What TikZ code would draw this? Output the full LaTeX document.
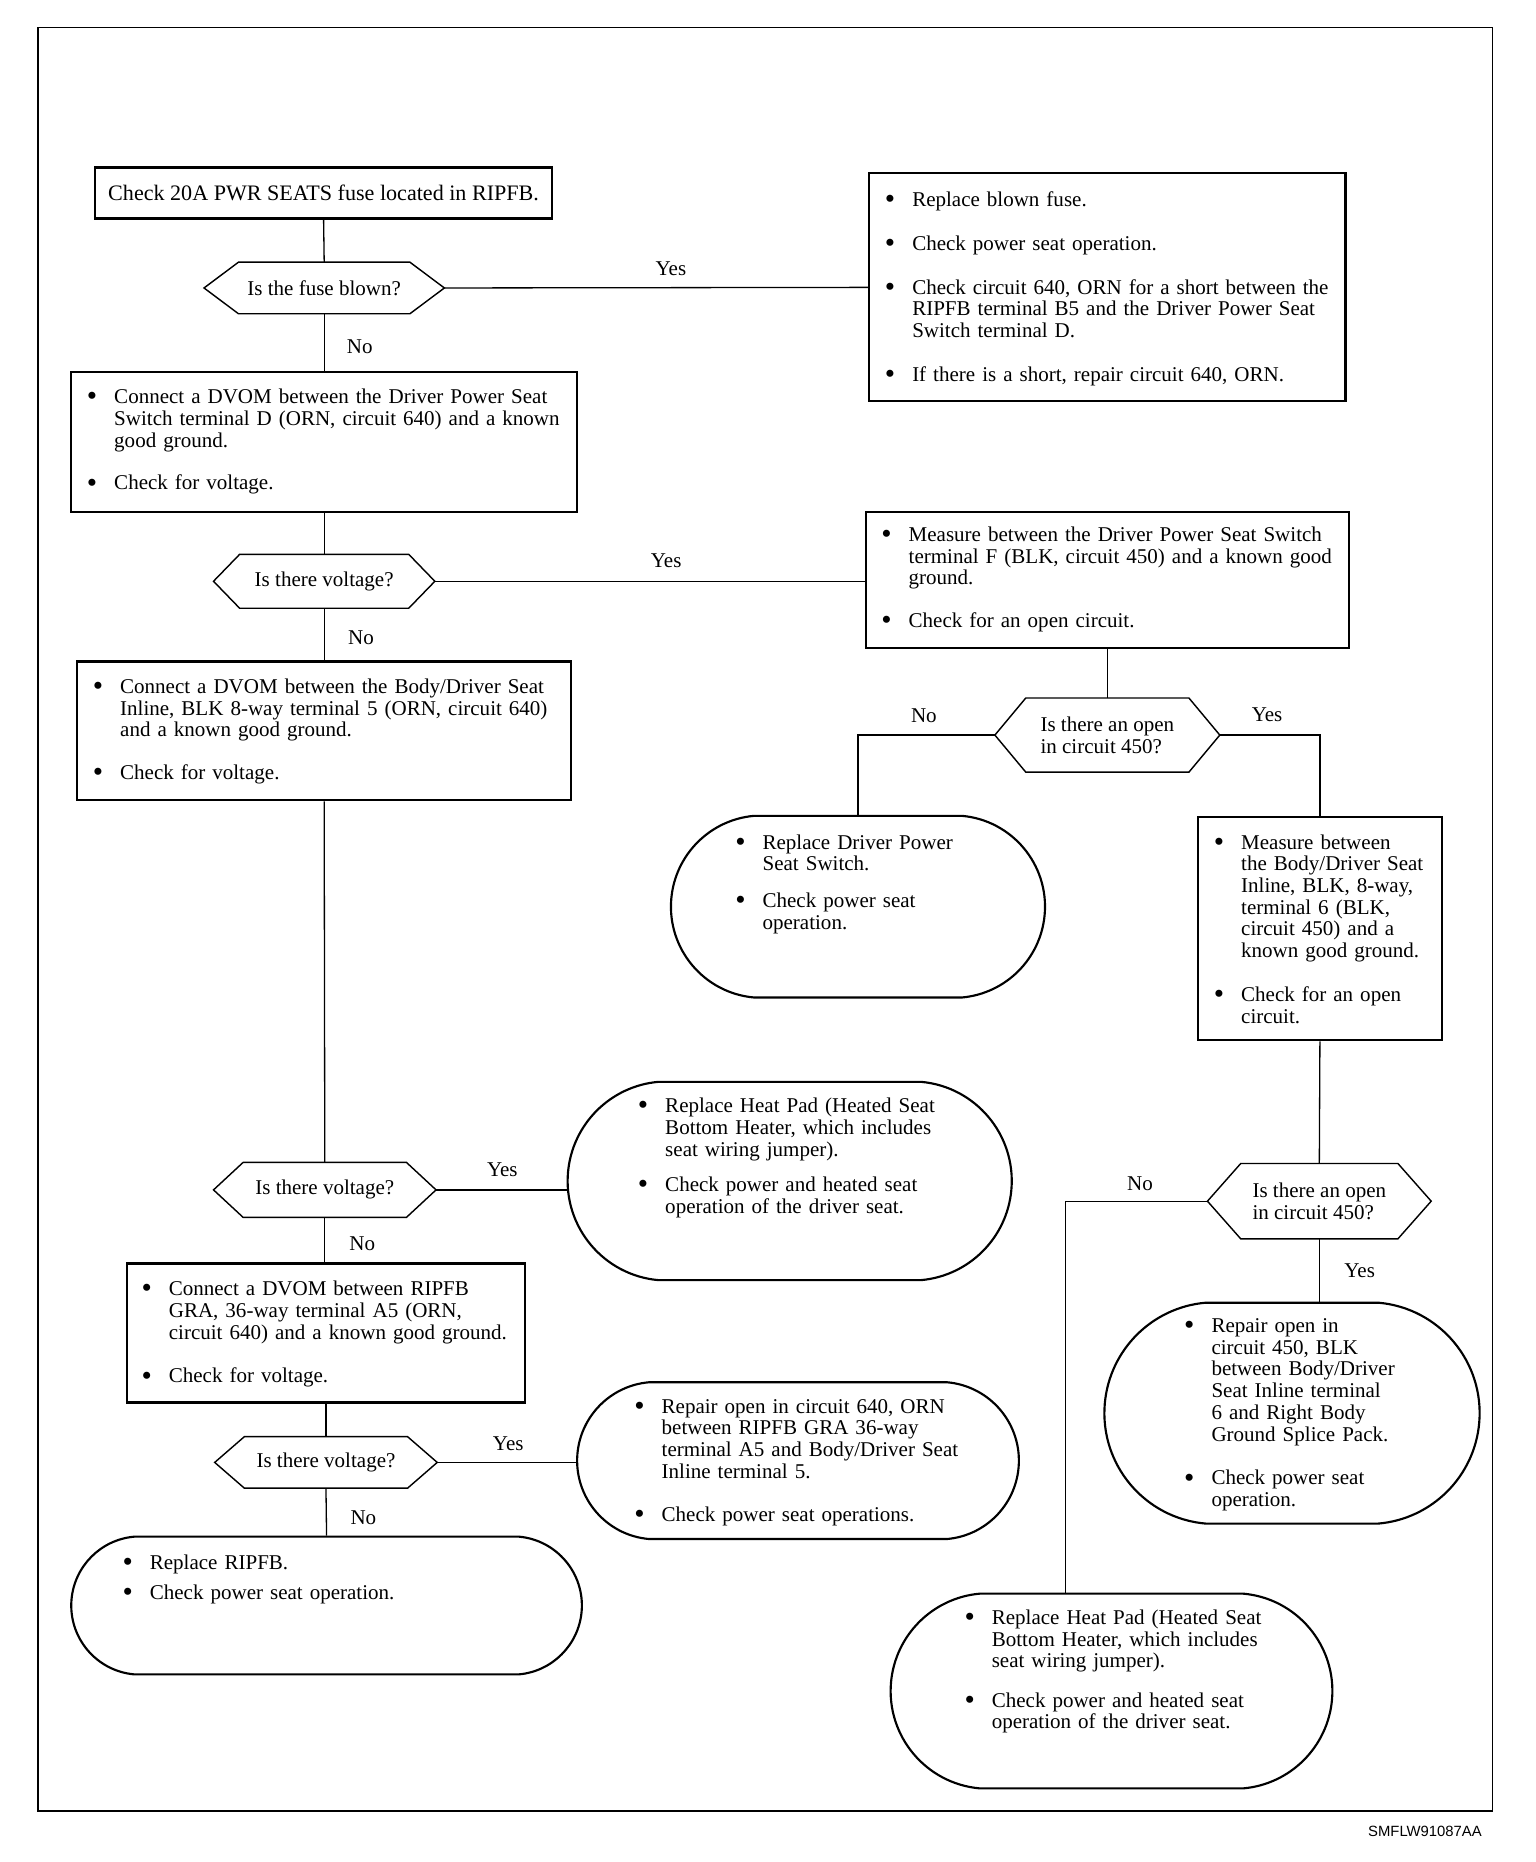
\documentclass[tikz,border=0pt]{standalone}
\usepackage{fontspec}
\usepackage{graphicx}
\setmainfont{Liberation Serif}
\newfontfamily\figfont{Liberation Sans}
\usetikzlibrary{shapes.misc}

% bullet item, optional extra space before it (none for the first item)
\newcommand\bul[1][]{\if\relax\detokenize{#1}\relax\else\par\vspace{#1}\fi
  \noindent\hangindent=23pt\hangafter=1\makebox[23pt][l]{\raisebox{-0.1em}{\scalebox{1.4}{\textbullet}}}\ignorespaces}

\begin{document}
\begin{tikzpicture}[x=1pt,y=-1pt,
	every node/.style={font=\fontsize{17.7}{18.3}\selectfont},
	box/.style={draw,line width=1.8pt,rectangle,inner sep=0pt},
	endbox/.style={draw,line width=1.8pt,rounded rectangle,rounded rectangle arc length=170,inner sep=0pt},
	decision/.style={rectangle,inner sep=0pt,align=left},
	bullets/.style={anchor=base west,inner sep=0pt,text width=420pt,align=left},
	answer/.style={inner sep=1pt},
	line/.style={line width=1.1pt}]
	\useasboundingbox (0,0) rectangle (1293.4,1568);
	\draw[line width=1.3pt] (32,23) rectangle (1257,1525);

	% boxes
	\node[box,minimum width=385,minimum height=43,font=\fontsize{18.6}{18.3}\selectfont] (fuse) at (272.5,162.5) {Check 20A PWR SEATS fuse located in RIPFB.};
	\node[box,minimum width=401,minimum height=192] (replacefuse) at (932.5,242) {};
	\node[box,minimum width=426,minimum height=118] (dvomswitch) at (273,372) {};
	\node[box,minimum width=407,minimum height=115] (measuref) at (932.5,488.5) {};
	\node[box,minimum width=416,minimum height=117] (dvominline) at (273,615.5) {};
	\node[endbox,minimum width=315,minimum height=153] (replaceswitch) at (722.5,763.5) {};
	\node[box,minimum width=205,minimum height=188] (measure6) at (1111.5,782) {};
	\node[endbox,minimum width=374,minimum height=167] (heatpad1) at (665,994.5) {};
	\node[box,minimum width=335,minimum height=117] (dvomgra) at (274.5,1122.5) {};
	\node[endbox,minimum width=372,minimum height=132] (repair640) at (672,1230) {};
	\node[endbox,minimum width=430,minimum height=116] (replaceripfb) at (275,1352) {};
	\node[endbox,minimum width=316,minimum height=186] (repair450) at (1088,1190) {};
	\node[endbox,minimum width=372,minimum height=164] (heatpad2) at (936,1424) {};

	% decisions
	\node[decision,minimum width=202,minimum height=43] (blown) at (273,242.5) {Is the fuse blown?};
	\node[decision,minimum width=186,minimum height=45] (volt1) at (273,489.5) {Is there voltage?};
	\node[decision,minimum width=189,minimum height=62] (open1) at (932.5,619) {Is there an open\\in circuit 450?};
	\node[decision,minimum width=187,minimum height=46] (volt2) at (273.5,1002) {Is there voltage?};
	\node[decision,minimum width=187,minimum height=43] (volt3) at (274.5,1231.5) {Is there voltage?};
	\node[decision,minimum width=188,minimum height=63] (open2) at (1111,1011.5) {Is there an open\\in circuit 450?};
	\foreach \d/\c in {blown/29,volt1/22,open1/26,volt2/25,volt3/25,open2/28}
		\draw[line width=1.2pt] (\d.west) -- ([xshift=\c]\d.north west) -- ([xshift=-\c]\d.north east)
			-- (\d.east) -- ([xshift=-\c]\d.south east) -- ([xshift=\c]\d.south west) -- cycle;

	% box texts
	\node[bullets] (replacefuse-t) at (745,174) {\bul Replace blown fuse.
		\bul[18.5pt] Check power seat operation.
		\bul[18.5pt] Check circuit 640, ORN for a short between the\newline RIPFB terminal B5 and the Driver Power Seat\newline Switch terminal D.
		\bul[18.5pt] If there is a short, repair circuit 640, ORN.\par};
	\node[bullets] (dvomswitch-t) at (73,340) {\bul Connect a DVOM between the Driver Power Seat\newline Switch terminal D (ORN, circuit 640) and a known\newline good ground.
		\bul[17.7pt] Check for voltage.\par};
	\node[bullets] (measuref-t) at (742,456) {\bul Measure between the Driver Power Seat Switch\newline terminal F (BLK, circuit 450) and a known good\newline ground.
		\bul[17.7pt] Check for an open circuit.\par};
	\node[bullets] (dvominline-t) at (78,584) {\bul Connect a DVOM between the Body/Driver Seat\newline Inline, BLK 8-way terminal 5 (ORN, circuit 640)\newline and a known good ground.
		\bul[17.7pt] Check for voltage.\par};
	\node[bullets] (replaceswitch-t) at (619,715) {\bul Replace Driver Power\newline Seat Switch.
		\bul[12.7pt] Check power seat\newline operation.\par};
	\node[bullets] (measure6-t) at (1022,715) {\bul Measure between\newline the Body/Driver Seat\newline Inline, BLK, 8-way,\newline terminal 6 (BLK,\newline circuit 450) and a\newline known good ground.
		\bul[18.7pt] Check for an open\newline circuit.\par};
	\node[bullets] (heatpad1-t) at (537,937) {\bul Replace Heat Pad (Heated Seat\newline Bottom Heater, which includes\newline seat wiring jumper).
		\bul[11.7pt] Check power and heated seat\newline operation of the driver seat.\par};
	\node[bullets] (dvomgra-t) at (119,1091) {\bul Connect a DVOM between RIPFB\newline GRA, 36-way terminal A5 (ORN,\newline circuit 640) and a known good ground.
		\bul[18.7pt] Check for voltage.\par};
	\node[bullets] (repair640-t) at (534,1190) {\bul Repair open in circuit 640, ORN\newline between RIPFB GRA 36-way\newline terminal A5 and Body/Driver Seat\newline Inline terminal 5.
		\bul[17.7pt] Check power seat operations.\par};
	\node[bullets] (replaceripfb-t) at (103,1322) {\bul Replace RIPFB.
		\bul[6.7pt] Check power seat operation.\par};
	\node[bullets] (repair450-t) at (997,1122) {\bul Repair open in\newline circuit 450, BLK\newline between Body/Driver\newline Seat Inline terminal\newline 6 and Right Body\newline Ground Splice Pack.
		\bul[18.7pt] Check power seat\newline operation.\par};
	\node[bullets] (heatpad2-t) at (812,1368) {\bul Replace Heat Pad (Heated Seat\newline Bottom Heater, which includes\newline seat wiring jumper).
		\bul[14.7pt] Check power and heated seat\newline operation of the driver seat.\par};

	% connectors
	\draw[line] (fuse.south) -- (blown.north);
	\draw[line] (blown.east) -- (replacefuse.west);
	\draw[line] (blown.south) -- (dvomswitch.north);
	\draw[line] (dvomswitch.south) -- (volt1.north);
	\draw[line] (volt1.east) -- (volt1.east -| measuref.west);
	\draw[line] (volt1.south) -- (dvominline.north);
	\draw[line] (measuref.south) -- (open1.north);
	\draw[line] (open1.west) -| (replaceswitch.north);
	\draw[line] (open1.east) -| (measure6.north);
	\draw[line] (dvominline.south) -- (volt2.north);
	\draw[line] (volt2.east) -- (volt2.east -| heatpad1.west);
	\draw[line] (volt2.south) -- (volt2.south |- dvomgra.north);
	\draw[line] (dvomgra.south) -- (volt3.north);
	\draw[line] (volt3.east) -- (volt3.east -| repair640.west);
	\draw[line] (volt3.south) -- (replaceripfb.north);
	\draw[line] (measure6.south) -- (open2.north);
	\draw[line] (open2.west) -| ([xshift=-39]heatpad2.north);
	\draw[line] (open2.south) -- (open2.south |- repair450.north);

	% answers
	\node[answer] (yes1) at (565,226) {Yes};
	\node[answer] (no1) at (303,292) {No};
	\node[answer] (yes2) at (561,472) {Yes};
	\node[answer] (no2) at (304,537) {No};
	\node[answer] (no3) at (778,603) {No};
	\node[answer] (yes3) at (1067,602) {Yes};
	\node[answer] (yes4) at (423,985) {Yes};
	\node[answer] (no4) at (305,1047) {No};
	\node[answer] (yes5) at (428,1216) {Yes};
	\node[answer] (no5) at (306,1278) {No};
	\node[answer] (no6) at (960,997) {No};
	\node[answer] (yes6) at (1145,1070) {Yes};

	\node[font=\figfont\fontsize{12.5}{14}\selectfont] (code) at (1200,1542) {SMFLW91087AA};
\end{tikzpicture}
\end{document}
